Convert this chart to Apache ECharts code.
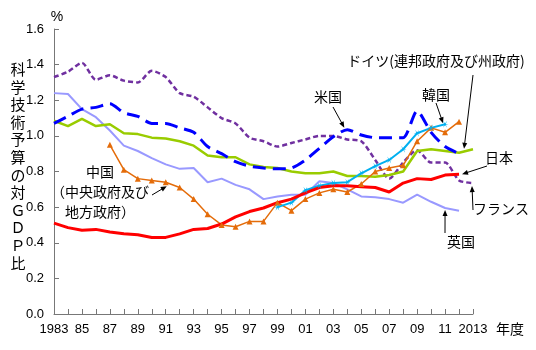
<!DOCTYPE html>
<html>
<head>
<meta charset="utf-8">
<script src="https://cdn.jsdelivr.net/npm/echarts@6/dist/echarts.min.js"></script>
<style>
html,body{margin:0;padding:0;background:#fff}
#chart{width:536px;height:350px}
</style>
</head>
<body>
<div id="chart"></div>
<script>
var years = ['1983','1984','1985','1986','1987','1988','1989','1990','1991','1992',
             '1993','1994','1995','1996','1997','1998','1999','2000','2001','2002',
             '2003','2004','2005','2006','2007','2008','2009','2010','2011','2012','2013'];
var yTicks = [0, 0.2, 0.4, 0.6, 0.8, 1.0, 1.2, 1.4, 1.6];

// 1983 -> 2013
var france = [1.33,1.36,1.41,1.315,1.34,1.31,1.30,1.365,1.33,1.24,1.22,1.16,1.10,1.07,0.99,0.97,
              0.94,0.96,0.98,1.00,1.00,0.98,0.97,0.865,0.76,0.85,0.92,0.85,0.85,0.75,0.735];
// 1983 -> 2012
var usa = [1.07,1.11,1.15,1.16,1.18,1.13,1.11,1.07,1.07,1.045,1.02,0.94,0.90,0.855,0.83,0.82,
           0.815,0.82,0.865,0.93,0.995,1.035,1.005,0.99,0.99,0.99,1.14,1.02,0.94,0.90];
// 1983 -> 2013
var germany = [1.085,1.055,1.095,1.055,1.065,1.015,1.01,0.99,0.985,0.97,0.945,0.89,0.88,0.88,0.84,0.825,
               0.82,0.80,0.79,0.79,0.80,0.775,0.775,0.77,0.78,0.80,0.915,0.925,0.915,0.905,0.925];
// 1983 -> 2012
var uk = [1.24,1.235,1.15,1.105,1.03,0.945,0.915,0.875,0.84,0.815,0.82,0.74,0.76,0.725,0.70,0.645,
          0.66,0.67,0.67,0.745,0.735,0.70,0.66,0.655,0.645,0.625,0.67,0.63,0.595,0.58];
// 1983 -> 2012
var japan = [0.51,0.485,0.47,0.475,0.46,0.45,0.445,0.43,0.43,0.45,0.475,0.48,0.505,0.545,0.575,0.595,
             0.625,0.645,0.68,0.71,0.72,0.72,0.715,0.71,0.685,0.735,0.76,0.755,0.78,0.785];
// 1987 -> 2012
var china = [null,null,null,null,
             0.95,0.81,0.76,0.75,0.74,0.71,0.645,0.56,0.50,0.49,0.52,0.52,
             0.625,0.58,0.645,0.68,0.70,0.685,0.73,0.80,0.82,0.835,0.97,1.045,1.02,1.08];
// 1999 -> 2011
var korea = [null,null,null,null,null,null,null,null,null,null,null,null,null,null,null,null,
             0.60,0.625,0.695,0.72,0.735,0.74,0.79,0.83,0.865,0.925,1.015,1.045,1.065];

var numFont = 'Liberation Sans, Arial, sans-serif';
var jpFont = 'Noto Sans CJK JP, sans-serif';

var chart = echarts.init(document.getElementById('chart'));

function line(name, data, color, width, dash, extra) {
    var s = {
        name: name,
        type: 'line',
        data: data,
        symbol: 'none',
        connectNulls: false,
        lineStyle: {color: color, width: width, type: dash || 'solid'},
        itemStyle: {color: color},
        emphasis: {disabled: true}
    };
    for (var k in extra) s[k] = extra[k];
    return s;
}

var option = {
    animation: false,
    grid: {left: 54, right: 63, top: 29, bottom: 36},
    xAxis: {
        type: 'category',
        data: years,
        boundaryGap: false,
        axisLine: {lineStyle: {color: '#777', width: 1}},
        axisTick: {inside: true, length: 5, interval: 0, lineStyle: {color: '#777'}},
        axisLabel: {
            interval: 1,
            margin: 9,
            color: '#000',
            fontSize: 13,
            fontFamily: numFont,
            formatter: function (v) {
                if (v === '1983' || v === '2013') return v;
                return v.slice(2);
            }
        },
        splitLine: {show: false}
    },
    yAxis: {
        type: 'value',
        min: yTicks[0],
        max: yTicks[yTicks.length - 1],
        interval: 0.2,
        axisLine: {show: true, lineStyle: {color: '#777', width: 1}},
        axisTick: {show: true, inside: true, length: 5, lineStyle: {color: '#777'}},
        axisLabel: {
            color: '#000',
            fontSize: 13,
            margin: 10,
            fontFamily: numFont,
            formatter: function (v) { return v.toFixed(1); }
        },
        splitLine: {show: false}
    },
    series: [
        line('フランス', france, '#7030a0', 2.5, [5, 3], {smooth: 0.25}),
        line('英国', uk, '#9999ff', 2, 'solid'),
        line('ドイツ', germany, '#99cc00', 2.5, 'solid'),
        line('米国', usa, '#0000ff', 3, [13, 7], {smooth: 0.25}),
        line('中国', china, '#e46c0a', 1.5, 'solid', {symbol: 'triangle', symbolSize: 6, showSymbol: true}),
        line('韓国', korea, '#00b0f0', 2, 'solid', {
            symbol: 'path://M0,4.5L3.5,4L2,0L4.5,3.5L7,0L5.5,4L9,4.5L5.5,5L7,9L4.5,5.5L2,9L3.5,5Z',
            symbolSize: 7, showSymbol: true}),
        line('日本', japan, '#ff0000', 3, 'solid')
    ]
};
chart.setOption(option);

function txt(s, x, y, size, font) {
    return {
        type: 'text', x: x, y: y, silent: true,
        style: {text: s, fill: '#000', font: (size || 14) + 'px ' + (font || jpFont),
                textAlign: 'center', textVerticalAlign: 'middle', lineHeight: 20}
    };
}

function arrow(x1, y1, series, idx, dx, dy) {
    var d = option.series[series].data[idx];
    var p = chart.convertToPixel({seriesIndex: series}, [idx, d]);
    var x2 = p[0] + dx, y2 = p[1] + dy;
    var a = Math.atan2(y2 - y1, x2 - x1), L = 6, W = 2.5;
    var c = Math.cos(a), s = Math.sin(a);
    return [
        {type: 'line', silent: true, shape: {x1: x1, y1: y1, x2: x2 - c * 3, y2: y2 - s * 3},
         style: {stroke: '#000', lineWidth: 1}},
        {type: 'polygon', silent: true,
         shape: {points: [[x2, y2], [x2 - L * c + W * s, y2 - L * s - W * c], [x2 - L * c - W * s, y2 - L * s + W * c]]},
         style: {fill: '#000'}}
    ];
}

var g = [
    txt('%', 57, 17, 14, numFont),
    txt('年度', 510, 329, 14),
    {
        type: 'text', x: 18, y: 166, silent: true,
        style: {text: '科学技術予算の対ＧＤＰ比'.split('').join('\n'), fill: '#000',
                font: '15px ' + jpFont, textAlign: 'center', textVerticalAlign: 'middle', lineHeight: 17.6}
    },
    txt('中国\n（中央政府及び\n地方政府）', 100, 192, 14),
    txt('米国', 328, 97, 14),
    txt('ドイツ(連邦政府及び州政府)', 436, 61, 14),
    txt('韓国', 436, 95, 14),
    txt('日本', 499, 158, 14),
    txt('フランス', 501, 209, 14),
    txt('英国', 461, 242, 14)
];
g = g.concat(arrow(152, 195, 4, 8, 1, 4));
g = g.concat(arrow(333, 107, 3, 21, -3, -2));
g = g.concat(arrow(473, 75, 2, 29, 5, -4));
g = g.concat(arrow(436, 103, 5, 28, -2, -1));
g = g.concat(arrow(487, 166, 6, 29, 3, 0));
g = g.concat(arrow(473, 210, 0, 30, -1, 3));
g = g.concat(arrow(445, 233, 1, 28, 0, 2));

chart.setOption({graphic: g});

window.addEventListener('resize', function () {
    chart.resize();
});
</script>
</body>
</html>
